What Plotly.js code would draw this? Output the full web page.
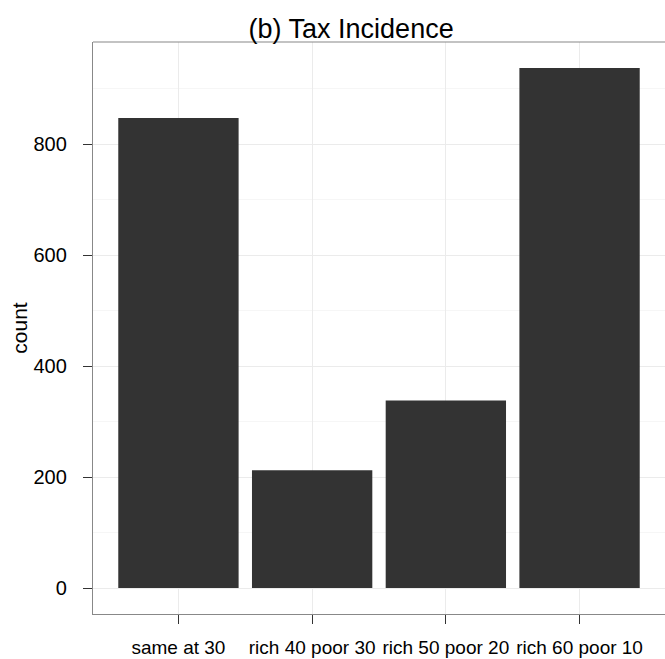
<!DOCTYPE html>
<html>
<head>
<meta charset="utf-8">
<script src="https://cdn.plot.ly/plotly-3.0.1.min.js"></script>
<style>html,body{margin:0;padding:0;background:#fff;}#chart{width:665px;height:659px;}</style>
</head>
<body>
<div id="chart"></div>
<script>
var categories = ["same at 30", "rich 40 poor 30", "rich 50 poor 20", "rich 60 poor 10"];
var counts = [847, 212, 338, 937];
var yTicks = [0, 200, 400, 600, 800];

var trace = {
  type: "bar",
  x: categories,
  y: counts,
  width: 0.9,
  marker: {color: "#333333", line: {width: 0}},
  hoverinfo: "x+y"
};

var layout = {
  width: 665,
  height: 659,
  margin: {l: 93, r: 0, t: 42, b: 45, pad: 0},
  paper_bgcolor: "#ffffff",
  plot_bgcolor: "#ffffff",
  font: {family: "Liberation Sans, Arial, sans-serif", color: "#000000"},
  showlegend: false,
  title: {
    text: "(b) Tax Incidence",
    font: {size: 27, color: "#000000"},
    xref: "container", x: 0.528, xanchor: "center",
    yref: "container", y: 0.956, yanchor: "middle"
  },
  xaxis: {
    type: "category",
    range: [-0.639, 3.639],
    showgrid: true, gridcolor: "#ebebeb", gridwidth: 1,
    showline: true, linecolor: "#888888", linewidth: 1.2,
    mirror: false,
    ticks: "outside", ticklen: 9, tickcolor: "#333333", tickwidth: 1,
    ticklabelstandoff: 7,
    tickangle: 0,
    tickfont: {size: 19, color: "#000000"},
    zeroline: false,
    fixedrange: true
  },
  yaxis: {
    range: [-46.85, 983.85],
    tickvals: yTicks,
    ticktext: yTicks.map(String),
    showgrid: true, gridcolor: "#ebebeb", gridwidth: 1,
    minor: {tickvals: [100, 300, 500, 700, 900], showgrid: true, gridcolor: "#f6f6f6", gridwidth: 1, ticks: ""},
    showline: true, linecolor: "#888888", linewidth: 1.2,
    ticks: "outside", ticklen: 9, tickcolor: "#333333", tickwidth: 1,
    ticklabelstandoff: 12,
    tickfont: {size: 20, color: "#000000"},
    zeroline: false,
    title: {text: "count", font: {size: 21, color: "#000000"}, standoff: 0},
    fixedrange: true
  },
  shapes: [{
    type: "line", xref: "paper", yref: "paper",
    x0: 0, x1: 1, y0: 1, y1: 1,
    line: {color: "#888888", width: 1.2}
  }],
  bargap: 0.1
};

Plotly.newPlot("chart", [trace], layout, {displayModeBar: false, staticPlot: true});
</script>
</body>
</html>
